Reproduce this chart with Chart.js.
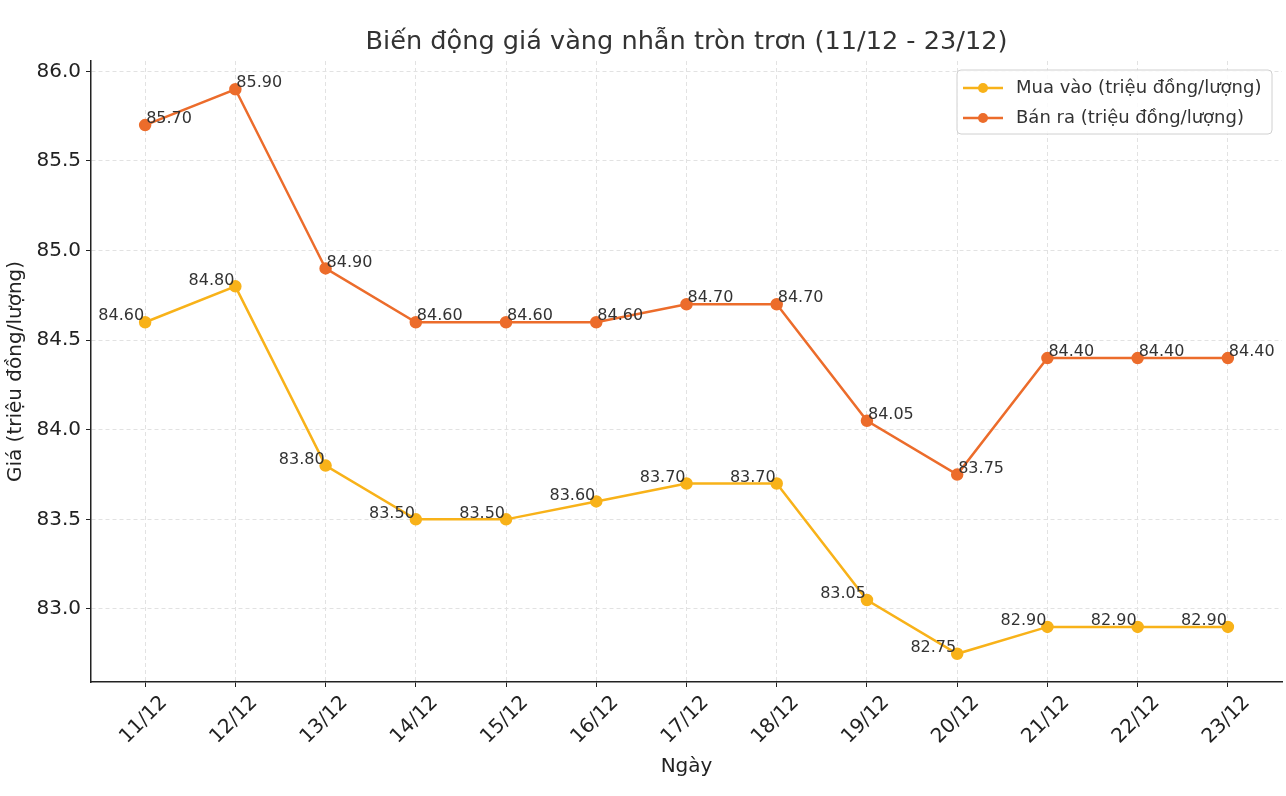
<!DOCTYPE html>
<html>
<head>
<meta charset="utf-8">
<script src="https://cdn.jsdelivr.net/npm/chart.js@4.4.1/dist/chart.umd.min.js"></script>
<style>
  html, body { margin: 0; padding: 0; background: #fff; }
</style>
</head>
<body>
<canvas id="goldChart" width="1286" height="796"></canvas>
<script>
var days = ["11/12", "12/12", "13/12", "14/12", "15/12", "16/12", "17/12", "18/12", "19/12", "20/12", "21/12", "22/12", "23/12"];
var buyPrices = [84.6, 84.8, 83.8, 83.5, 83.5, 83.6, 83.7, 83.7, 83.05, 82.75, 82.9, 82.9, 82.9];
var sellPrices = [85.7, 85.9, 84.9, 84.6, 84.6, 84.6, 84.7, 84.7, 84.05, 83.75, 84.4, 84.4, 84.4];
var seriesNames = ["Mua vào (triệu đồng/lượng)", "Bán ra (triệu đồng/lượng)"];
var chartTitle = "Biến động giá vàng nhẫn tròn trơn (11/12 - 23/12)";

var buyColor = "#F8B219";
var sellColor = "#EC6C2B";
var font = "'DejaVu Sans', sans-serif";

function toPoints(values) {
  return values.map(function (v, i) { return { x: i, y: v }; });
}

// title centred over the plot area, not the canvas
var titlePlugin = {
  id: "plotTitle",
  afterDraw: function (chart) {
    var ctx = chart.ctx, a = chart.chartArea;
    ctx.save();
    ctx.font = "25.6px " + font;
    ctx.fillStyle = "#333";
    ctx.textAlign = "center";
    ctx.textBaseline = "middle";
    ctx.fillText(chartTitle, (a.left + a.right) / 2, 42);
    ctx.restore();
  }
};

// value labels next to each point
var labelPlugin = {
  id: "valueLabels",
  afterDatasetsDraw: function (chart) {
    var ctx = chart.ctx;
    ctx.save();
    ctx.font = "16px " + font;
    ctx.fillStyle = "#333";
    ctx.textBaseline = "middle";
    chart.data.datasets.forEach(function (ds, di) {
      var meta = chart.getDatasetMeta(di);
      meta.data.forEach(function (pt, i) {
        var txt = ds.data[i].y.toFixed(2);
        if (di === 0) {
          ctx.textAlign = "right";
          ctx.fillText(txt, pt.x - 1, pt.y - 6);
        } else {
          ctx.textAlign = "left";
          ctx.fillText(txt, pt.x + 1, pt.y - 6);
        }
      });
    });
    ctx.restore();
  }
};

// legend box in the upper right corner of the plot
var legendPlugin = {
  id: "cornerLegend",
  afterDraw: function (chart) {
    var ctx = chart.ctx, a = chart.chartArea;
    var w = 315, h = 64;
    var x = a.right - 10 - w, y = a.top + 9;
    ctx.save();
    ctx.beginPath();
    ctx.roundRect(x, y, w, h, 4);
    ctx.fillStyle = "rgba(255,255,255,0.85)";
    ctx.fill();
    ctx.strokeStyle = "#d0d0d0";
    ctx.lineWidth = 1;
    ctx.stroke();
    chart.data.datasets.forEach(function (ds, i) {
      var ry = y + 18 + i * 30;
      ctx.strokeStyle = ds.borderColor;
      ctx.lineWidth = 2.5;
      ctx.beginPath();
      ctx.moveTo(x + 6, ry);
      ctx.lineTo(x + 46, ry);
      ctx.stroke();
      ctx.fillStyle = ds.borderColor;
      ctx.beginPath();
      ctx.arc(x + 26, ry, 5, 0, Math.PI * 2);
      ctx.fill();
      ctx.fillStyle = "#333";
      ctx.font = "18px " + font;
      ctx.textAlign = "left";
      ctx.textBaseline = "middle";
      ctx.fillText(ds.label, x + 59, ry);
    });
    ctx.restore();
  }
};

new Chart(document.getElementById("goldChart"), {
  type: "line",
  data: {
    datasets: [
      {
        label: seriesNames[0],
        data: toPoints(buyPrices),
        borderColor: buyColor,
        backgroundColor: buyColor,
        borderWidth: 2.5,
        pointRadius: 5,
        pointHoverRadius: 5,
        tension: 0,
        fill: false
      },
      {
        label: seriesNames[1],
        data: toPoints(sellPrices),
        borderColor: sellColor,
        backgroundColor: sellColor,
        borderWidth: 2.5,
        pointRadius: 5,
        pointHoverRadius: 5,
        tension: 0,
        fill: false
      }
    ]
  },
  options: {
    responsive: false,
    animation: false,
    layout: { autoPadding: false, padding: { top: 61, right: 4, bottom: 0, left: 0 } },
    plugins: {
      legend: { display: false },
      title: { display: false },
      tooltip: { enabled: false }
    },
    scales: {
      x: {
        type: "linear",
        min: -0.6,
        max: days.length - 1 + 0.6,
        afterFit: function (s) { s.height = 114; },
        ticks: {
          stepSize: 1,
          includeBounds: false,
          autoSkip: false,
          maxRotation: 45,
          minRotation: 45,
          labelOffset: 19,
          padding: 4,
          color: "#222",
          font: { family: font, size: 20 },
          callback: function (v) { return days[v]; }
        },
        grid: { color: "#e2e2e2", tickColor: "#222", tickLength: 5, lineWidth: 1 },
        border: { color: "#222", width: 1.5, dash: [4, 3] },
        title: {
          display: true,
          text: "Ngày",
          color: "#222",
          font: { family: font, size: 20 },
          padding: { top: 0, bottom: 17 }
        }
      },
      y: {
        min: 82.5925,
        max: 86.0575,
        afterFit: function (s) { s.width = 91; },
        ticks: {
          stepSize: 0.5,
          includeBounds: false,
          padding: 5,
          color: "#222",
          font: { family: font, size: 20 },
          callback: function (v) { return Number(v).toFixed(1); }
        },
        grid: { color: "#e2e2e2", tickColor: "#222", tickLength: 5, lineWidth: 1 },
        border: { color: "#222", width: 1.5, dash: [4, 3] },
        title: {
          display: true,
          text: "Giá (triệu đồng/lượng)",
          color: "#222",
          font: { family: font, size: 20 },
          padding: { top: 4, bottom: 0 }
        }
      }
    }
  },
  plugins: [titlePlugin, labelPlugin, legendPlugin]
});
</script>
</body>
</html>
